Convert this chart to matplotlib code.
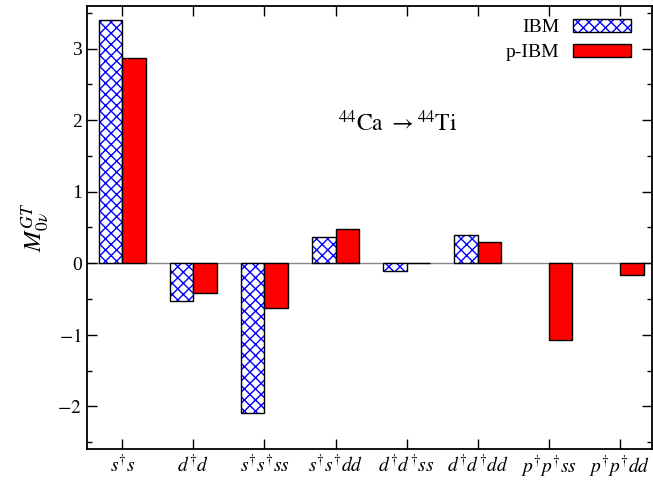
import matplotlib
matplotlib.use("Agg")
import matplotlib.pyplot as plt
import matplotlib.patches as mpatches
from matplotlib.legend_handler import HandlerTuple
from matplotlib.ticker import MultipleLocator
import numpy as np

plt.rcParams['font.family'] = ['Liberation Serif', 'DejaVu Serif']
plt.rcParams['mathtext.fontset'] = 'stix'

labels = [r'$s^{\dagger}s$', r'$d^{\dagger}d$', r'$s^{\dagger}s^{\dagger}ss$', r'$s^{\dagger}s^{\dagger}dd$',
          r'$d^{\dagger}d^{\dagger}ss$', r'$d^{\dagger}d^{\dagger}dd$', r'$p^{\dagger}p^{\dagger}ss$',
          r'$p^{\dagger}p^{\dagger}dd$']
ibm = [3.40, -0.53, -2.10, 0.37, -0.11, 0.39, 0.0, 0.0]
pibm = [2.87, -0.41, -0.63, 0.48, 0.01, 0.30, -1.07, -0.16]

x = np.arange(len(labels))
w = 0.335

fig, ax = plt.subplots(figsize=(6.53, 4.83), dpi=100)
fig.subplots_adjust(left=0.133, right=0.998, top=0.988, bottom=0.07)

ax.axhline(0, color='#888888', lw=1, zorder=1)

# hatched IBM bars: blue hatch, black outline drawn on top (no outline for empty bars)
ax.bar(x - w / 2, ibm, w, color='white', edgecolor='blue', hatch='xxx', lw=0, zorder=2)
ax.bar(x - w / 2, ibm, w, fill=False, edgecolor=['black' if v != 0 else 'none' for v in ibm],
       lw=1, zorder=3)
ax.bar(x + w / 2, pibm, w, color='red', edgecolor='black', lw=1, zorder=3)

ax.set_xlim(-0.5, 7.45)
ax.set_ylim(-2.6, 3.6)
ax.set_xticks(x)
ax.set_xticklabels(labels, fontsize=14)
ax.yaxis.set_major_locator(MultipleLocator(1))
ax.yaxis.set_minor_locator(MultipleLocator(0.5))
ax.set_yticks([-2, -1, 0, 1, 2, 3])
ax.set_yticklabels([r'$-2$', r'$-1$', '0', '1', '2', '3'], fontsize=14)
ax.tick_params(direction='in', top=True, right=True, length=7, width=1)
ax.tick_params(which='minor', direction='in', right=True, length=3.5, width=1)
for s in ax.spines.values():
    s.set_linewidth(1.3)

ax.set_ylabel(r'$M^{GT}_{0\nu}$', fontsize=18, labelpad=4)

ax.text(3.87, 1.96, r'$^{44}\mathrm{Ca}\ \rightarrow^{44}\mathrm{Ti}$', fontsize=17, ha='center', va='center')

h_ibm = (mpatches.Patch(facecolor='white', edgecolor='blue', hatch='xxx', lw=0),
         mpatches.Patch(fill=False, edgecolor='black', lw=1))
h_p = mpatches.Patch(facecolor='red', edgecolor='black', lw=1)
ax.legend([h_ibm, h_p], ['IBM', 'p-IBM'], handler_map={tuple: HandlerTuple(ndivide=1)},
          loc='upper right', bbox_to_anchor=(0.988, 1.0), frameon=False, markerfirst=False,
          fontsize=14, handlelength=3.0, handleheight=0.6, labelspacing=0.4, handletextpad=0.7,
          borderaxespad=0.3)

fig.savefig('out.png', dpi=100)
